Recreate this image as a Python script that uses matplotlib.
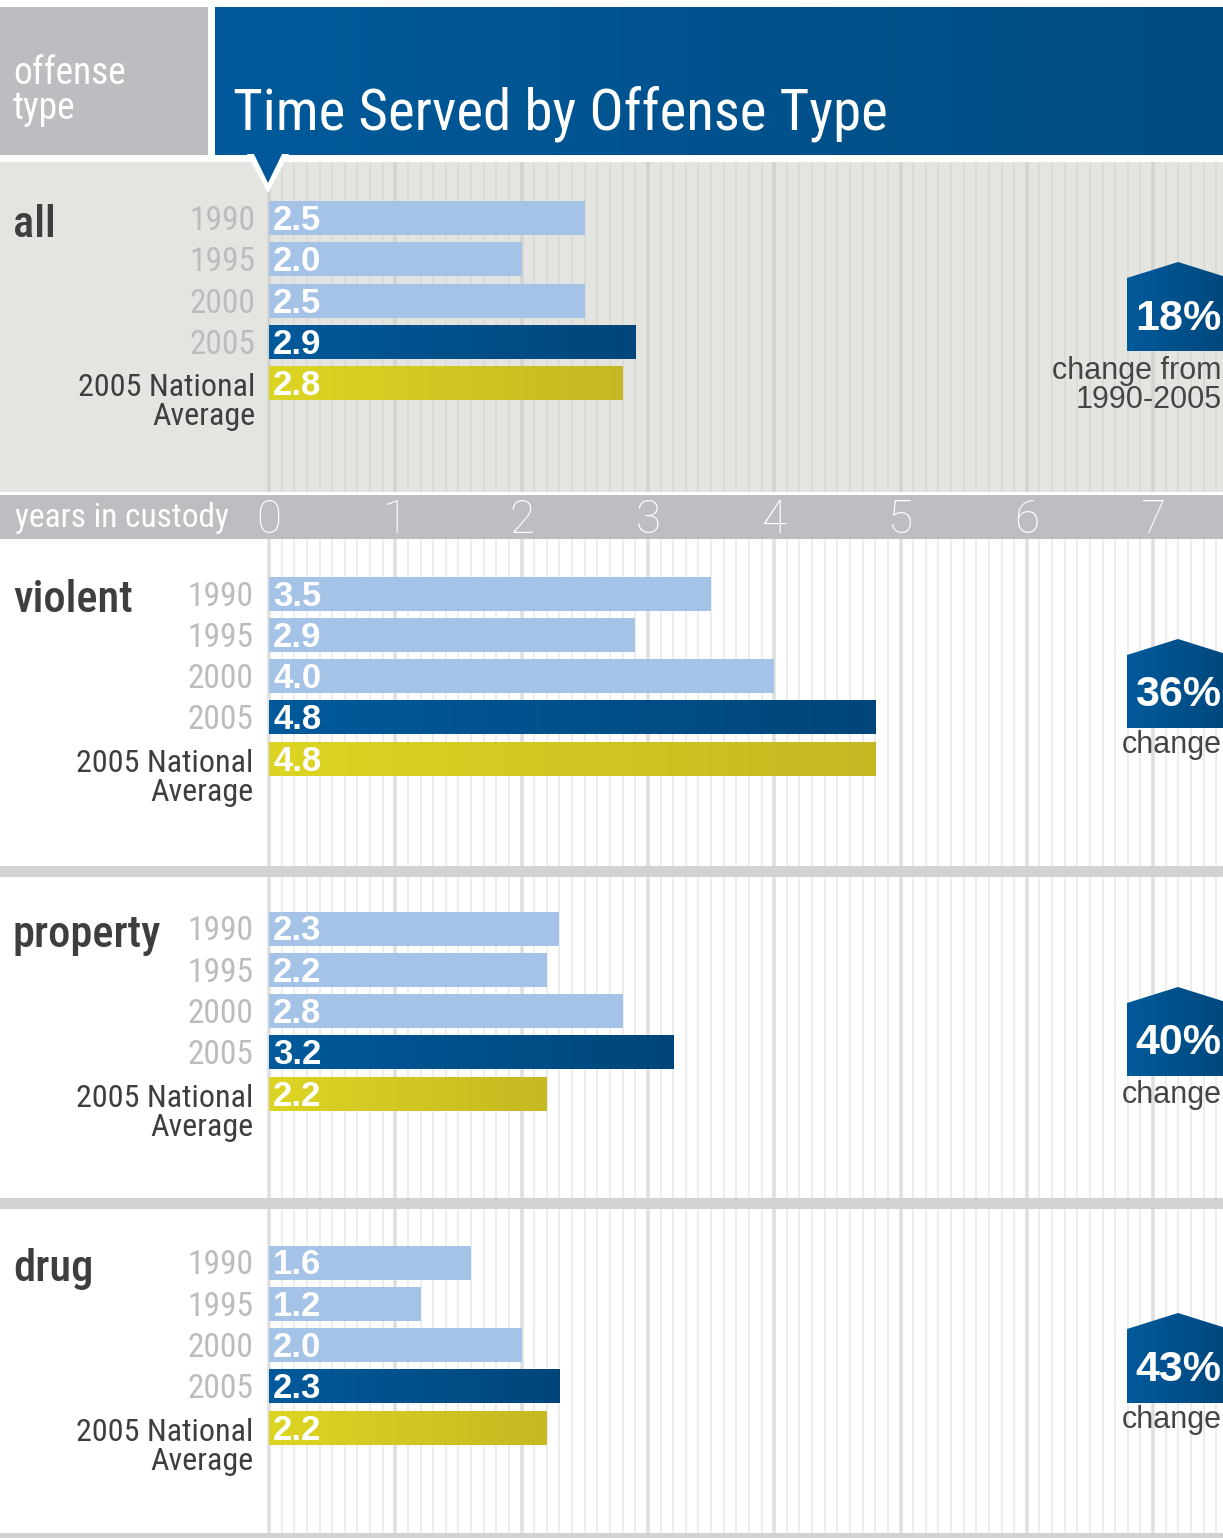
import numpy as np
import matplotlib
matplotlib.use("Agg")
import matplotlib.pyplot as plt
from matplotlib.patches import Rectangle, Polygon
from matplotlib.colors import LinearSegmentedColormap
from matplotlib import font_manager as fm

# ---------------- data ----------------
categories = ["all", "violent", "property", "drug"]
row_labels = ["1990", "1995", "2000", "2005", "2005 National\nAverage"]
values_all = [2.5, 2.0, 2.5, 2.9, 2.8]
values_violent = [3.5, 2.9, 4.0, 4.8, 4.8]
values_property = [2.3, 2.2, 2.8, 3.2, 2.2]
values_drug = [1.6, 1.2, 2.0, 2.3, 2.2]
pct_change = [18, 36, 40, 43]
badge_captions = ["change from\n1990-2005", "change", "change", "change"]
axis_ticks = [0, 1, 2, 3, 4, 5, 6, 7]
axis_label = "years in custody"
title = "Time Served by Offense Type"
header_left = "offense\ntype"
series = [values_all, values_violent, values_property, values_drug]

# ---------------- fonts ----------------
names = {f.name for f in fm.fontManager.ttflist}
def pick(*cands):
    for c in cands:
        if c in names:
            return c
    return "DejaVu Sans"
NARROW = pick("Roboto Condensed", "Archivo Narrow", "PT Sans Narrow", "Liberation Sans Narrow")
WIDE = pick("Liberation Sans", "Roboto")
LIGHT = pick("Roboto", "Open Sans")

# ---------------- layout (pixels) ----------------
W, H = 1223, 1538
X0 = 269.0          # pixel of value 0
PPU = 126.3         # pixels per unit
def X(px):
    return (px - X0) / PPU

panel_tops = [162, 539, 877, 1209]
panel_bottoms = [492, 866, 1198, 1533]
panel_bg = ["#e4e5e1", "white", "white", "white"]
first_center = [218, 593.5, 928.5, 1262.5]
row_step = 41.3
bar_h = 34
badge_peak = [262, 639, 987, 1313]
badge_bottom = [351, 728, 1076, 1403]
caption_base = [379, 753, 1103, 1428]

fig = plt.figure(figsize=(W / 100, H / 100), dpi=100)
ax = fig.add_axes([0, 0, 1, 1])
ax.set_xlim(X(0), X(W))
ax.set_ylim(H, 0)
ax.axis("off")
ax.set_autoscale_on(False)

def grad_fill(patch, c1, c2, z):
    cmap = LinearSegmentedColormap.from_list("g", [c1, c2])
    bb = patch.get_path().get_extents(patch.get_patch_transform())
    g = np.linspace(0, 1, 256).reshape(1, -1)
    im = ax.imshow(g, cmap=cmap, aspect="auto", interpolation="bilinear",
                   extent=[bb.x0, bb.x1, bb.y1, bb.y0], zorder=z)
    im.set_clip_path(patch)
    patch.set_facecolor("none")

# background
ax.add_patch(Rectangle((X(0), 0), X(W) - X(0), H, facecolor="white", zorder=0))

# header
ax.add_patch(Rectangle((X(0), 7), X(208) - X(0), 148, facecolor="#bcbdc1", zorder=1))
hdr = Rectangle((X(215), 7), X(W + 2) - X(215), 148, facecolor="#00589a", zorder=1)
ax.add_patch(hdr)
grad_fill(hdr, "#005a9b", "#004b81", 1.1)
ax.text(X(13), 84, "offense", color="white", fontsize=27, family=NARROW,
        ha="left", va="baseline", zorder=5)
ax.text(X(13), 119, "type", color="white", fontsize=27, family=NARROW,
        ha="left", va="baseline", zorder=5)
ax.text(X(233), 130, title, color="white", fontsize=41, family=NARROW,
        ha="left", va="baseline", zorder=5)

# pointer triangle (white outline + blue)
ax.add_patch(Polygon([(X(247), 154), (X(289), 154), (X(268), 193)], closed=True,
                     facecolor="white", edgecolor="none", zorder=6))
ax.add_patch(Polygon([(X(252), 150), (X(284), 150), (X(268), 183)], closed=True,
                     facecolor="#00589a", edgecolor="none", zorder=7))

# separators
ax.add_patch(Rectangle((X(0), 866), X(W) - X(0), 11, facecolor="#d1d2d4", zorder=1))
ax.add_patch(Rectangle((X(0), 1198), X(W) - X(0), 11, facecolor="#d1d2d4", zorder=1))
ax.add_patch(Rectangle((X(0), 1533), X(W) - X(0), 5, facecolor="#d1d2d4", zorder=1))

# panels
minor_ticks = np.round(np.arange(0, 7.6, 0.1), 1)
for k in range(4):
    top, bot = panel_tops[k], panel_bottoms[k]
    if panel_bg[k] != "white":
        ax.add_patch(Rectangle((X(0), top), X(W) - X(0), bot - top,
                               facecolor=panel_bg[k], zorder=1))
        cmin, cmaj = "#d8d9d5", "#d3d4d0"
    else:
        cmin, cmaj = "#e8e8e8", "#dfdfdf"
    minors = [t for t in minor_ticks if abs(t - round(t)) > 1e-6]
    majors = [t for t in minor_ticks if abs(t - round(t)) <= 1e-6]
    ax.vlines(minors, top, bot, colors=cmin, linewidth=1.1, zorder=2)
    ax.vlines(majors, top, bot, colors=cmaj, linewidth=2.6, zorder=2)

    ys = [first_center[k] + i * row_step for i in range(5)]
    vals = series[k]
    bars = ax.barh(ys, vals, height=bar_h, left=0, zorder=3)
    for i, (b, v) in enumerate(zip(bars, vals)):
        if i < 3:
            b.set_facecolor("#a4c3e7")
        elif i == 3:
            grad_fill(b, "#005a9b", "#00467a", 3.1)
        else:
            grad_fill(b, "#ddd523", "#c6b822", 3.1)
        ax.text(X(273), ys[i] + 12, f"{v:.1f}", color="white", fontsize=25,
                family=WIDE, fontweight="bold", ha="left", va="baseline", zorder=5)
    # row labels
    rx = X(255) if k == 0 else X(253)
    for i in range(4):
        ax.text(rx, ys[i] + 12, row_labels[i], color="#bcbcbc", fontsize=24,
                family=NARROW, fontweight="normal", ha="right", va="baseline", zorder=5)
    l1, l2 = row_labels[4].split("\n")
    ax.text(rx, ys[4] + 13, l1, color="#3e3e3e", fontsize=23, family=NARROW,
            ha="right", va="baseline", zorder=5)
    ax.text(rx, ys[4] + 42, l2, color="#3e3e3e", fontsize=23, family=NARROW,
            ha="right", va="baseline", zorder=5)
    # category
    ax.text(X(13), ys[0] + 19, categories[k], color="#3e3e3e", fontsize=32,
            family=NARROW, fontweight="medium", ha="left", va="baseline", zorder=5)
    # badge
    pk, bt = badge_peak[k], badge_bottom[k]
    badge = Polygon([(X(1127), bt), (X(1127), pk + 16), (X(1178), pk),
                     (X(1229), pk + 16), (X(1229), bt)], closed=True, zorder=4)
    ax.add_patch(badge)
    grad_fill(badge, "#005a9b", "#00477c", 4)
    ax.text(X(1178), (pk + 16 + bt) / 2 + 15, f"{pct_change[k]}%", color="white",
            fontsize=31, family=WIDE, fontweight="bold", ha="center",
            va="baseline", zorder=6)
    cap = badge_captions[k].split("\n")
    for j, line in enumerate(cap):
        ax.text(X(1222), caption_base[k] + j * 29, line, color="#454545",
                fontsize=22, family=WIDE, ha="right", va="baseline", zorder=6)

# axis band
ax.add_patch(Rectangle((X(0), 495), X(W) - X(0), 44, facecolor="#bdbec2", zorder=4))
ax.text(X(15), 527, axis_label, color="white", fontsize=24, family=NARROW,
        ha="left", va="baseline", zorder=5)
for t in axis_ticks:
    ax.text(t, 533, str(t), color="white", fontsize=33, family=LIGHT,
            fontweight="light", ha="center", va="baseline", zorder=5)

fig.savefig("out.png", dpi=100)
